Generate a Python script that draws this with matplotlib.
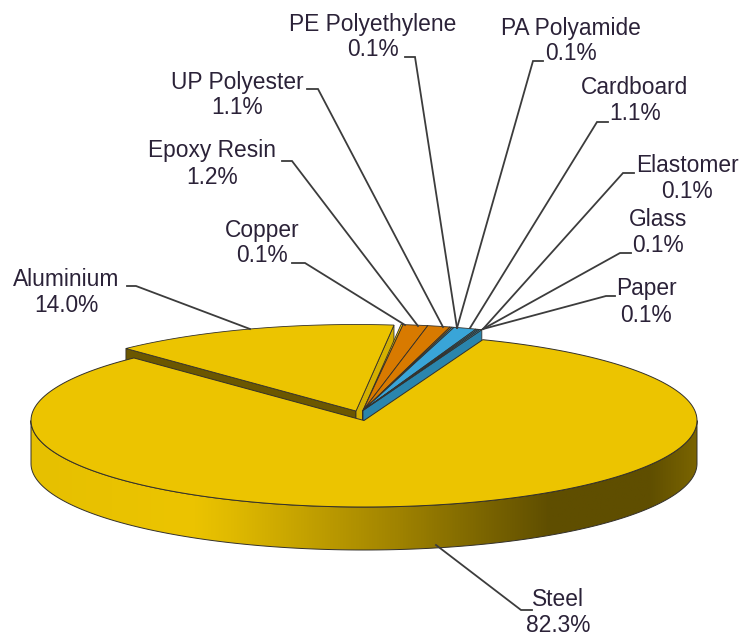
import numpy as np
import matplotlib
matplotlib.use("Agg")
import matplotlib.pyplot as plt
from matplotlib.colors import LinearSegmentedColormap
from matplotlib.patches import Polygon

plt.rcParams["font.family"] = ["Liberation Sans", "DejaVu Sans"]

# Data, clockwise starting from the Aluminium slice
names = ["Aluminium", "Copper", "Epoxy Resin", "UP Polyester", "PE Polyethylene", "PA Polyamide",
         "Cardboard", "Elastomer", "Glass", "Paper", "Steel"]
values = [14.0, 0.1, 1.2, 1.1, 0.1, 0.1, 1.1, 0.1, 0.1, 0.1, 82.3]

YELLOW = "#ecc400"
ORANGE = "#d87a00"
BLUE = "#39a5d8"
top_colors = [YELLOW, YELLOW, ORANGE, ORANGE, ORANGE, BLUE, BLUE, BLUE, BLUE, BLUE, YELLOW]
wall_colors = ["#d4b000", "#d4b000", "#a85f00", "#a85f00", "#a85f00", "#2a85ad", "#2a85ad",
               "#2a85ad", "#2a85ad", "#2a85ad", "#6b5700"]

# Label centres (x, y of the name line) and leader lines, in pixels
label_pos = [(66, 279), (262, 230), (212, 151), (237, 82), (373, 24), (571, 28),
             (635, 88), (687, 165), (658, 219), (646, 289), (558, 599)]
leaders = [
    [(127, 286), (136, 286), (250, 329)],
    [(292, 263), (305, 263), (405, 325)],
    [(282, 161), (292, 161), (418, 326)],
    [(307, 89), (318, 89), (443, 327)],
    [(405, 57), (415, 57), (457, 328)],
    [(543, 61), (533, 61), (457, 328)],
    [(608, 122), (597, 122), (470, 328)],
    [(634, 173), (623, 173), (483, 329)],
    [(631, 253), (620, 253), (483, 329)],
    [(615, 296), (606, 296), (483, 329)],
    [(532, 610), (521, 610), (436, 545)],
]

# Pie projection
CX, CY = 364, 420.5
A, B = 333, 86.5
DEPTH = 43
START_ANGLE = -43.7
ALU_OFFSET = (-8, -9.5)
SMALL_OFFSET = (-1, -10)
EDGE = "#33302a"


def rim(theta, cx, cy):
    t = np.radians(theta)
    return np.column_stack([cx + A * np.sin(t), cy - B * np.cos(t)])


def wedge_top(t0, t1, cx, cy):
    arc = rim(np.linspace(t0, t1, 200), cx, cy)
    return np.vstack([[cx, cy], arc])


def cut_wall(theta, cx, cy):
    p = rim(np.array([theta]), cx, cy)[0]
    return [(cx, cy), tuple(p), (p[0], p[1] + DEPTH), (cx, cy + DEPTH)]


fig = plt.figure(figsize=(7.41, 6.36), dpi=100)
ax = fig.add_axes([0, 0, 1, 1])

fractions = np.array(values) / sum(values)
edges = START_ANGLE + 360 * np.concatenate([[0], np.cumsum(fractions)])

z = 2
for i in range(len(values) - 1):
    dx, dy = ALU_OFFSET if i == 0 else SMALL_OFFSET
    cx, cy = CX + dx, CY + dy
    t0, t1 = edges[i], edges[i + 1]
    if i == 0:
        # aluminium shows both cut faces
        ax.add_patch(Polygon(cut_wall(t0, cx, cy), fc="#6b5700", ec=EDGE, lw=0.6, zorder=z))
    ax.add_patch(Polygon(cut_wall(t1, cx, cy), fc=wall_colors[i], ec=EDGE, lw=0.6, zorder=z))
    ax.add_patch(Polygon(wedge_top(t0, t1, cx, cy), fc=top_colors[i], ec=EDGE, lw=0.6, zorder=z + 1))
    z += 2

# Steel: front wall with shading, then the top face
front = np.linspace(90, 270, 300)
upper = rim(front, CX, CY)
lower = upper + [0, DEPTH]
wall = Polygon(np.vstack([upper, lower[::-1]]), fc="none", ec=EDGE, lw=0.7, zorder=z + 1)
ax.add_patch(wall)

shade = LinearSegmentedColormap.from_list("shade", [
    (0.0, "#e6c000"), (0.24, "#ecc400"), (0.30, "#e0ba00"), (0.55, "#a08300"),
    (0.78, "#5f4e00"), (0.93, "#5f4e00"), (1.0, "#7a6400")])
img = ax.imshow(np.linspace(0, 1, 512).reshape(1, -1), cmap=shade, aspect="auto",
                extent=(CX - A, CX + A, CY + B + DEPTH, CY - B), zorder=z)
img.set_clip_path(wall)

ax.add_patch(Polygon(wedge_top(edges[-2], edges[-1], CX, CY), fc=top_colors[-1], ec=EDGE, lw=0.7,
                     zorder=z + 2))
z += 3

for pts in leaders:
    xs, ys = zip(*pts)
    ax.plot(xs, ys, color="#3c3c3c", lw=1.3, solid_joinstyle="miter", zorder=z)

for name, val, (x, y) in zip(names, values, label_pos):
    ax.text(x, y, name, ha="center", va="center", fontsize=16.4, color="#2b2238", zorder=z)
    ax.text(x, y + 26, f"{val:.1f}%", ha="center", va="center", fontsize=16.4, color="#2b2238", zorder=z)

ax.set_xlim(0, 741)
ax.set_ylim(636, 0)
ax.axis("off")

fig.savefig("out.png", dpi=100, facecolor="white")
